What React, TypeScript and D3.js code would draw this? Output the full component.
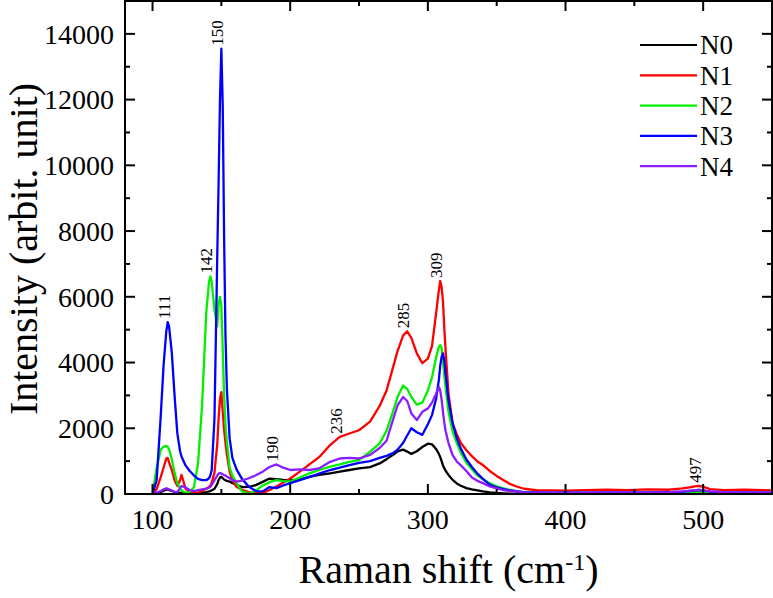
import React from "react";
import * as d3 from "d3";

// Raman shift grid (cm-1) shared by every spectrum
const SHIFT = [
  100, 103, 106, 108, 110, 111, 112, 114, 116, 118,
  120, 121, 122, 124, 127, 130, 133, 136, 139, 141,
  142, 143, 145, 147, 148, 149, 150, 151, 152, 153,
  154, 156, 158, 161, 165, 170, 175, 180, 185, 190,
  195, 200, 207, 214, 221, 229, 236, 243, 250, 258,
  265, 270, 275, 278, 282, 285, 288, 292, 296, 300,
  303, 306, 308, 309, 310, 311, 312, 313, 315, 318,
  321, 324, 328, 332, 336, 340, 345, 350, 355, 360,
  365, 370, 380, 390, 400, 415, 430, 445, 460, 475,
  485, 490, 495, 497, 500, 505, 515, 530, 550,
];

const N0 = [
  0, 20, 60, 100, 130, 140, 120, 90, 60, 40,
  30, 30, 30, 20, 20, 20, 30, 40, 60, 80,
  90, 110, 160, 300, 420, 500, 520, 480, 440, 420,
  400, 380, 330, 280, 210, 220, 270, 370, 470, 450,
  430, 425, 440, 520, 580, 630, 680, 730, 780, 820,
  930, 1060, 1200, 1300, 1350, 1290, 1220, 1300, 1430, 1530,
  1510, 1370, 1220, 1120, 1000, 870, 780, 700, 580, 430,
  320, 250, 180, 140, 110, 80, 50, 30, 20, 10,
  10, 10, 10, 10, 10, 20, 20, 20, 20, 30,
  40, 60, 80, 90, 70, 40, 20, 20, 20,
];

const N1 = [
  0, 150, 520, 800, 1080, 1100, 960, 730, 420, 240,
  420, 580, 450, 160, 70, 40, 40, 100, 160, 210,
  260, 350, 650, 1500, 2300, 2900, 3100, 2500, 1950, 1550,
  1200, 680, 420, 220, 130, 60, 20, 30, 120, 230,
  350, 470, 680, 900, 1120, 1490, 1740, 1840, 1940, 2200,
  2680, 3150, 3900, 4350, 4820, 4950, 4750, 4280, 3980, 4120,
  4500, 5500, 6200, 6480, 6300, 5850, 5000, 4300, 3050, 2150,
  1820, 1550, 1330, 1150, 990, 880, 700, 550, 420, 300,
  220, 160, 110, 110, 100, 120, 130, 120, 140, 130,
  170, 200, 240, 250, 220, 150, 120, 130, 110,
];

const N2 = [
  0, 800, 1350, 1440, 1460, 1440, 1360, 1050, 650, 330,
  170, 120, 80, 40, 60, 200, 900, 2700, 5500, 6450,
  6620, 6450, 5600, 5100, 5800, 6000, 5700, 4400, 3000, 2100,
  1600, 800, 560, 330, 80, 10, 100, 260, 360, 420,
  390, 380, 500, 630, 730, 830, 900, 980, 1030, 1290,
  1540, 1920, 2550, 2950, 3300, 3200, 2950, 2720, 2780, 3150,
  3550, 4150, 4480, 4530, 4450, 4050, 3600, 3200, 2500, 1900,
  1550, 1250, 950, 750, 560, 450, 330, 230, 170, 120,
  80, 60, 40, 30, 40, 30, 40, 30, 40, 40,
  50, 60, 70, 70, 60, 40, 30, 40, 30,
];

const N3 = [
  0, 420, 2400, 3900, 4950, 5230, 5100, 4300, 3000, 1850,
  1300, 1150, 1050, 870, 700, 570, 460, 420, 420, 480,
  560, 730, 2300, 7200, 9500, 12000, 13550, 11800, 7800, 4800,
  3200, 1700, 1100, 750, 460, 220, 90, 80, 210, 180,
  260, 330, 420, 520, 620, 730, 800, 880, 950, 1000,
  1100, 1160, 1250, 1350, 1550, 1780, 2000, 1880, 1800, 2120,
  2400, 2900, 3470, 3900, 4170, 4280, 4050, 3600, 2850, 2150,
  1700, 1380, 1050, 820, 620, 460, 280, 200, 150, 110,
  80, 60, 50, 40, 50, 40, 50, 45, 50, 60,
  70, 90, 110, 120, 100, 70, 50, 45, 50,
];

const N4 = [
  0, 40, 90, 140, 170, 160, 140, 110, 60, 50,
  180, 240, 230, 200, 120, 90, 120, 140, 160, 190,
  220, 280, 420, 560, 620, 640, 620, 600, 580, 560,
  530, 480, 420, 380, 410, 480, 570, 680, 820, 900,
  800, 730, 750, 730, 780, 980, 1080, 1100, 1080, 1190,
  1400, 1620, 2300, 2700, 2950, 2830, 2450, 2250, 2500, 2600,
  2780, 3050, 3260, 3150, 2870, 2500, 2150, 1900, 1550, 1180,
  990, 870, 700, 500, 400, 330, 230, 170, 120, 90,
  70, 50, 40, 40, 40, 40, 50, 50, 50, 60,
  80, 100, 120, 130, 110, 80, 60, 50, 50,
];

const SERIES_NAMES = ["N0", "N1", "N2", "N3", "N4"];
const SERIES_VALUES = [N0, N1, N2, N3, N4];
const SERIES_COLORS = ["#000000", "#ff0000", "#00f000", "#0000ff", "#8a1cff"];

// Peak labels: wavenumber and the spectrum whose peak they mark
const PEAK_LABELS = ["111", "142", "150", "190", "236", "285", "309", "497"];
const PEAK_SHIFTS = [111, 142, 150, 190, 236, 285, 309, 497];
const PEAK_SERIES = [3, 2, 3, 4, 1, 1, 1, 1];

const X_TICKS = [100, 200, 300, 400, 500];
const X_MINOR = [150, 250, 350, 450];
const Y_TICKS = [0, 2000, 4000, 6000, 8000, 10000, 12000, 14000];
const Y_MINOR = [1000, 3000, 5000, 7000, 9000, 11000, 13000];

const W = 773;
const H = 598;
const L = 125;
const R = 772;
const T = 1;
const B = 494;
const SERIF = "'Liberation Serif', 'Times New Roman', serif";

export default function App() {
  const x = d3.scaleLinear().domain([80, 550]).range([L, R]);
  const y = d3.scaleLinear().domain([0, 15000]).range([B, T]);

  const line = d3
    .line<number>()
    .x((_, i) => x(SHIFT[i]))
    .y((v) => y(v))
    .curve(d3.curveLinear);

  const valueAt = (s: number, w: number) => {
    const idx = SHIFT.indexOf(w);
    return SERIES_VALUES[s][idx];
  };

  return (
    <svg
      width={W}
      height={H}
      style={{ position: "absolute", left: 0, top: 0, background: "#fff" }}
      fontFamily={SERIF}
    >
      <defs>
        <clipPath id="plot-area">
          <rect x={L} y={T} width={R - L} height={B - T} />
        </clipPath>
      </defs>

      <g clipPath="url(#plot-area)">
        {SERIES_VALUES.map((vals, s) => (
          <path
            key={SERIES_NAMES[s]}
            d={line(vals) || ""}
            fill="none"
            stroke={SERIES_COLORS[s]}
            strokeWidth={2.3}
            strokeLinejoin="round"
          />
        ))}
      </g>

      {/* peak annotations */}
      {PEAK_LABELS.map((lab, i) => {
        const px = x(PEAK_SHIFTS[i]) - 4;
        const py = y(valueAt(PEAK_SERIES[i], PEAK_SHIFTS[i])) - 3;
        return (
          <text
            key={lab}
            transform={`translate(${px},${py}) rotate(-90)`}
            dy="0.35em"
            fontSize={17}
            textAnchor="start"
          >
            {lab}
          </text>
        );
      })}

      {/* frame */}
      <rect
        x={L}
        y={T}
        width={R - L}
        height={B - T}
        fill="none"
        stroke="#000"
        strokeWidth={2}
      />

      {/* x ticks, mirrored on top */}
      {X_TICKS.map((t) => (
        <g key={`xt${t}`}>
          <line x1={x(t)} x2={x(t)} y1={B} y2={B - 10} stroke="#000" strokeWidth={2} />
          <line x1={x(t)} x2={x(t)} y1={T} y2={T + 10} stroke="#000" strokeWidth={2} />
          <text x={x(t)} y={529} fontSize={28} textAnchor="middle">
            {t}
          </text>
        </g>
      ))}
      {X_MINOR.map((t) => (
        <g key={`xm${t}`}>
          <line x1={x(t)} x2={x(t)} y1={B} y2={B - 5} stroke="#000" strokeWidth={2} />
          <line x1={x(t)} x2={x(t)} y1={T} y2={T + 5} stroke="#000" strokeWidth={2} />
        </g>
      ))}

      {/* y ticks, mirrored on right */}
      {Y_TICKS.map((t) => (
        <g key={`yt${t}`}>
          <line x1={L} x2={L + 10} y1={y(t)} y2={y(t)} stroke="#000" strokeWidth={2} />
          <line x1={R} x2={R - 10} y1={y(t)} y2={y(t)} stroke="#000" strokeWidth={2} />
          <text x={114} y={y(t)} dy="0.35em" fontSize={28} textAnchor="end">
            {t}
          </text>
        </g>
      ))}
      {Y_MINOR.map((t) => (
        <g key={`ym${t}`}>
          <line x1={L} x2={L + 5} y1={y(t)} y2={y(t)} stroke="#000" strokeWidth={2} />
          <line x1={R} x2={R - 5} y1={y(t)} y2={y(t)} stroke="#000" strokeWidth={2} />
        </g>
      ))}

      {/* axis titles */}
      <text x={(L + R) / 2} y={583} fontSize={40} textAnchor="middle">
        Raman shift (cm
        <tspan baselineShift="super" fontSize={24}>-1</tspan>)
      </text>
      <text
        transform={`translate(37,249) rotate(-90)`}
        fontSize={40}
        textAnchor="middle"
      >
        Intensity (arbit. unit)
      </text>

      {/* legend */}
      {SERIES_NAMES.map((name, i) => {
        const ly = 45 + i * 30.3;
        return (
          <g key={`lg${name}`}>
            <line x1={640} x2={697} y1={ly} y2={ly} stroke={SERIES_COLORS[i]} strokeWidth={2.2} />
            <text x={700} y={ly} dy="0.35em" fontSize={27}>
              {name}
            </text>
          </g>
        );
      })}
    </svg>
  );
}
